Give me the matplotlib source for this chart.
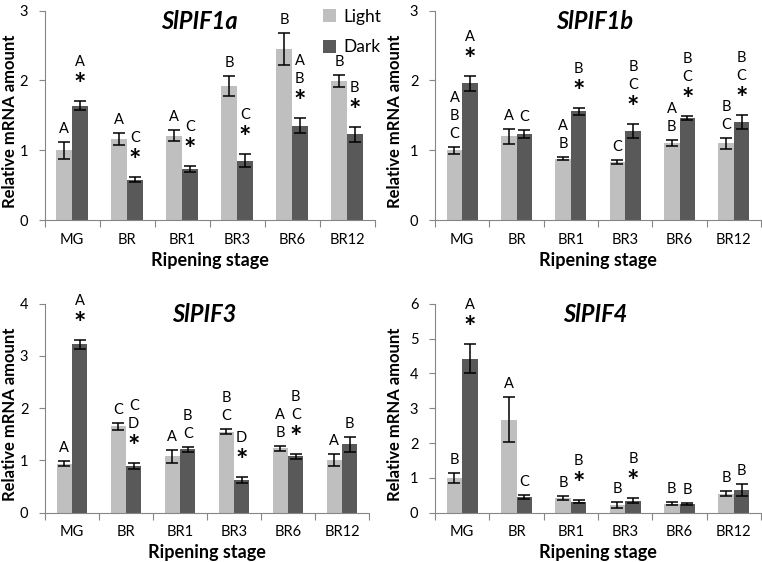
import matplotlib
matplotlib.use('Agg')
import matplotlib.pyplot as plt
import numpy as np

plt.rcParams['font.family'] = ['Lato', 'DejaVu Sans']

stages = ['MG', 'BR', 'BR1', 'BR3', 'BR6', 'BR12']

# SlPIF1a
pif1a_light = [1.00, 1.16, 1.21, 1.92, 2.45, 1.99]
pif1a_light_err = [0.12, 0.09, 0.08, 0.14, 0.23, 0.09]
pif1a_dark = [1.64, 0.58, 0.73, 0.85, 1.35, 1.23]
pif1a_dark_err = [0.06, 0.03, 0.04, 0.09, 0.11, 0.11]
pif1a_light_lbl = ['A', 'A', 'A', 'B', 'B', 'B']
pif1a_dark_lbl = ['A', 'C', 'C', 'C', 'AB', 'B']
pif1a_star = [True, True, True, True, True, True]

# SlPIF1b
pif1b_light = [1.00, 1.20, 0.88, 0.83, 1.10, 1.10]
pif1b_light_err = [0.05, 0.11, 0.02, 0.03, 0.04, 0.08]
pif1b_dark = [1.96, 1.23, 1.56, 1.28, 1.46, 1.40]
pif1b_dark_err = [0.11, 0.06, 0.05, 0.10, 0.03, 0.10]
pif1b_light_lbl = ['ABC', 'A', 'AB', 'C', 'AB', 'BC']
pif1b_dark_lbl = ['A', 'C', 'B', 'BC', 'BC', 'BC']
pif1b_star = [True, False, True, True, True, True]

# SlPIF3
pif3_light = [0.94, 1.65, 1.08, 1.55, 1.23, 1.01]
pif3_light_err = [0.05, 0.06, 0.12, 0.05, 0.05, 0.11]
pif3_dark = [3.22, 0.89, 1.21, 0.63, 1.08, 1.31]
pif3_dark_err = [0.08, 0.06, 0.04, 0.06, 0.05, 0.14]
pif3_light_lbl = ['A', 'C', 'A', 'BC', 'AB', 'A']
pif3_dark_lbl = ['A', 'CD', 'BC', 'D', 'BC', 'B']
pif3_star = [True, True, False, True, True, False]

# SlPIF4
pif4_light = [1.00, 2.67, 0.43, 0.22, 0.26, 0.55]
pif4_light_err = [0.14, 0.65, 0.06, 0.09, 0.04, 0.08]
pif4_dark = [4.42, 0.46, 0.32, 0.35, 0.25, 0.65]
pif4_dark_err = [0.41, 0.06, 0.05, 0.06, 0.03, 0.16]
pif4_light_lbl = ['B', 'A', 'B', 'B', 'B', 'B']
pif4_dark_lbl = ['A', 'C', 'B', 'B', 'B', 'B']
pif4_star = [True, False, True, True, False, False]

light_color = '#bfbfbf'
dark_color = '#595959'
axis_color = '#868686'

W, H = 762, 562


def add_labels(ax, xs, tops, labels, stars):
    px = 72 / 100  # points per pixel
    for x, top, lbl, star in zip(xs, tops, labels, stars):
        if star:
            ax.annotate('*', xy=(x, top), xytext=(0, 16 * px), textcoords='offset points',
                        ha='center', va='center', fontsize=21, fontweight='bold')
            base = 39
        else:
            base = 13
        for i, ch in enumerate(reversed(lbl)):
            ax.annotate(ch, xy=(x, top), xytext=(0, (base + 18 * i) * px),
                        textcoords='offset points', ha='center', va='center', fontsize=10.5)


def plot_panel(fig, rect, title, title_x, ymax, light, light_err, dark, dark_err,
               light_lbl, dark_lbl, stars, ylab_x):
    left, top, right, bottom = rect
    h = bottom - top
    ax = fig.add_axes([left / W, 1 - bottom / H, (right - left) / W, h / H])
    x = np.arange(len(stages))
    w = 1 / 3.5
    ekw = dict(ecolor='black', elinewidth=1.1, capsize=4, capthick=1.1)
    ax.bar(x - w / 2, light, w, yerr=light_err, color=light_color, error_kw=ekw, label='Light')
    ax.bar(x + w / 2, dark, w, yerr=dark_err, color=dark_color, error_kw=ekw, label='Dark')

    add_labels(ax, x - w / 2, np.array(light) + np.array(light_err), light_lbl,
               [False] * len(stages))
    add_labels(ax, x + w / 2, np.array(dark) + np.array(dark_err), dark_lbl, stars)

    ax.set_xlim(-0.5, len(stages) - 0.5)
    ax.set_ylim(0, ymax)
    ax.set_yticks(range(0, ymax + 1))
    ax.set_xticks(np.arange(-0.5, len(stages)), labels=[])
    ax.set_xticks(x, labels=stages, minor=True)
    ax.tick_params(axis='x', which='major', length=5, color=axis_color)
    ax.tick_params(axis='x', which='minor', length=0, pad=9, labelsize=10.5)
    ax.tick_params(axis='y', length=4, color=axis_color, pad=8, labelsize=10.5)
    for s in ['top', 'right']:
        ax.spines[s].set_visible(False)
    for s in ['left', 'bottom']:
        ax.spines[s].set_color(axis_color)
    ax.text(title_x, 0.95, title, transform=ax.transAxes, ha='center', va='center',
            fontsize=17, fontweight='bold', fontstyle='italic')
    ax.set_ylabel('Relative mRNA amount', fontsize=12, fontweight='bold', va='center')
    ax.yaxis.set_label_coords((ylab_x - left) / (right - left), 0.47)
    ax.set_xlabel('Ripening stage', fontsize=13, fontweight='bold', va='center')
    ax.xaxis.set_label_coords(0.5, -40 / h)
    return ax


fig = plt.figure(figsize=(W / 100, H / 100), dpi=100)

ax1 = plot_panel(fig, (44.5, 10.7, 374.5, 220), 'SlPIF1a', 0.47, 3,
                 pif1a_light, pif1a_light_err, pif1a_dark, pif1a_dark_err,
                 pif1a_light_lbl, pif1a_dark_lbl, pif1a_star, 10)
plot_panel(fig, (435, 10.7, 761, 220), 'SlPIF1b', 0.49, 3,
           pif1b_light, pif1b_light_err, pif1b_dark, pif1b_dark_err,
           pif1b_light_lbl, pif1b_dark_lbl, pif1b_star, 395)
plot_panel(fig, (45, 303.7, 369, 512.7), 'SlPIF3', 0.49, 4,
           pif3_light, pif3_light_err, pif3_dark, pif3_dark_err,
           pif3_light_lbl, pif3_dark_lbl, pif3_star, 10)
plot_panel(fig, (435, 303.7, 761, 512.7), 'SlPIF4', 0.49, 6,
           pif4_light, pif4_light_err, pif4_dark, pif4_dark_err,
           pif4_light_lbl, pif4_dark_lbl, pif4_star, 395)

handles, labels = ax1.get_legend_handles_labels()
fig.legend(handles, labels, loc='upper left', bbox_to_anchor=(313 / W, 1.003),
           frameon=False, fontsize=12.5, handlelength=0.75, handleheight=0.75,
           handletextpad=0.4, labelspacing=0.85, borderpad=0.1)

fig.savefig('out.png', dpi=100)
